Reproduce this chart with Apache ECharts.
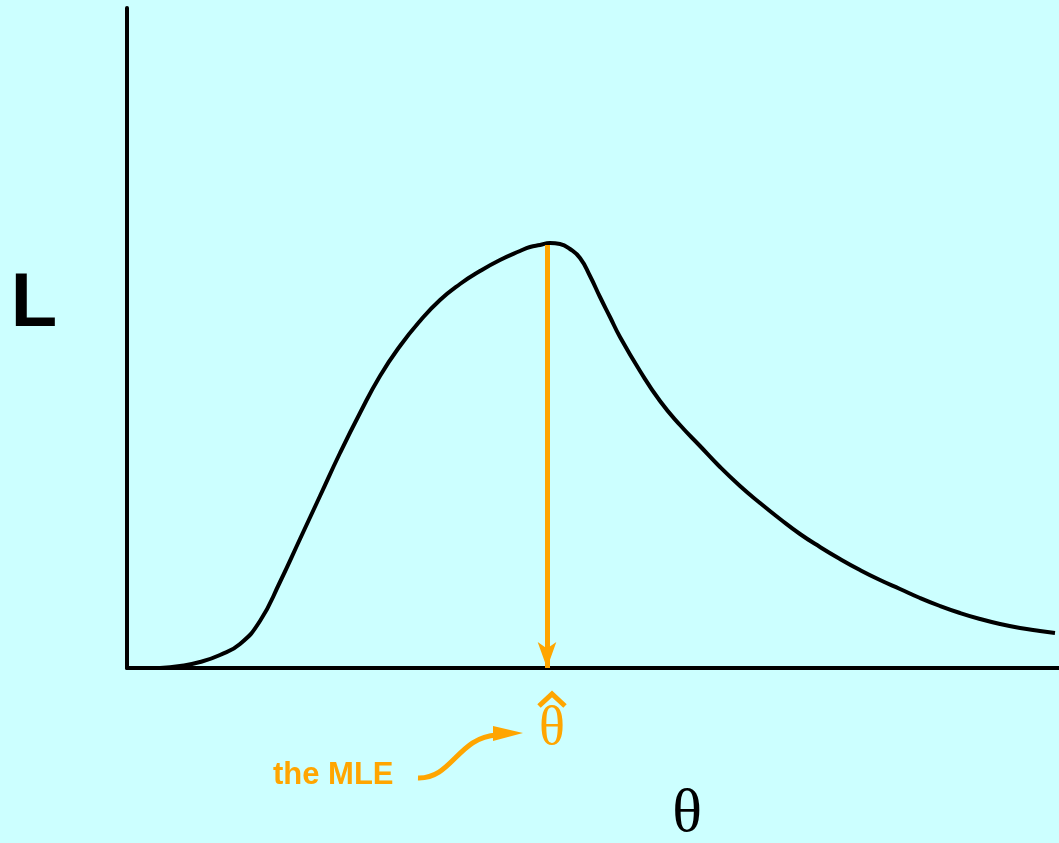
<!DOCTYPE html>
<html><head><meta charset="utf-8">
<script src="https://cdn.jsdelivr.net/npm/echarts@6/dist/echarts.min.js"></script>
<style>html,body{margin:0;padding:0;background:#CCFFFF;}#c{width:1059px;height:843px;}</style>
</head><body><div id="c"></div>
<script>
// theta values (arbitrary units) and likelihood values
var theta = [33,53,73,93,113,133,153,173,193,213,233,253,273,293,313,333,353,373,393,403,413,423,433,443,453,463,473,483,493,513,533,553,573,593,613,633,653,673,693,713,733,753,773,793,813,833,853,873,893,913,928];
var L     = [0,2,6,13,24,47,86,129,172,215,255,292,322,347,368,384,397,408,417,421,423,425,424,419,410,392,371,351,331,297,267,243,222,201,182,165,149,134,121,109,98,88,79,70,62,55,49,44,40,37,35];
var mleTheta = 420;
var mleL = 424;
var xMax = 932, yMax = 660;

var pts = theta.map(function(t,i){return [t, L[i]];});
var chart = echarts.init(document.getElementById('c'));
var orange = '#FFA500';
chart.setOption({
  backgroundColor: '#CCFFFF',
  animation: false,
  grid: {left:127, right:0, top:8, bottom:175},
  xAxis: {type:'value', min:0, max:xMax, axisLine:{show:true, onZero:false, lineStyle:{color:'#000', width:4}},
    axisTick:{show:false}, axisLabel:{show:false}, splitLine:{show:false}},
  yAxis: {type:'value', min:0, max:yMax, axisLine:{show:true, onZero:false, lineStyle:{color:'#000', width:4}},
    axisTick:{show:false}, axisLabel:{show:false}, splitLine:{show:false}},
  series: [{
    type:'line', data: pts, smooth: 0.5, showSymbol:false,
    lineStyle:{color:'#000', width:4}, z:3,
    markLine: {
      silent:true, symbol:['none','arrow'], symbolSize:[14,26],
      label:{show:false},
      lineStyle:{color:orange, width:5, type:'solid'},
      data: [[{coord:[mleTheta, mleL-1]}, {coord:[mleTheta, 0]}]]
    }
  }],
  graphic: [
    {type:'text', style:{x:34, y:305, text:'L', textAlign:'center', textVerticalAlign:'middle',
      fontSize:76, fontWeight:'bold', fontFamily:'"Liberation Sans", Arial, sans-serif', fill:'#000'}},
    {type:'text', style:{x:687, y:815, text:'θ', textAlign:'center', textVerticalAlign:'middle',
      fontSize:62, fontFamily:'"Liberation Serif", "DejaVu Serif", serif', fill:'#000'}},
    {type:'text', style:{x:552, y:730, text:'θ', textAlign:'center', textVerticalAlign:'middle',
      fontSize:54, fontFamily:'"Liberation Serif", "DejaVu Serif", serif', fill:orange}},
    {type:'polyline', shape:{points:[[539,706],[552,694],[565,706]]}, style:{stroke:orange, lineWidth:5, fill:null}},
    {type:'text', style:{x:273, y:775, text:'the MLE', textAlign:'left', textVerticalAlign:'middle',
      fontSize:31, fontWeight:'bold', fontFamily:'"Liberation Sans", Arial, sans-serif', fill:orange}},
    {type:'bezierCurve', shape:{x1:418, y1:778, x2:497, y2:735, cpx1:452, cpy1:779, cpx2:458, cpy2:737}, style:{stroke:orange, lineWidth:5, fill:null}},
    {type:'polygon', shape:{points:[[493,726],[523,733],[493,741]]}, style:{fill:orange}}
  ]
});
</script></body></html>
